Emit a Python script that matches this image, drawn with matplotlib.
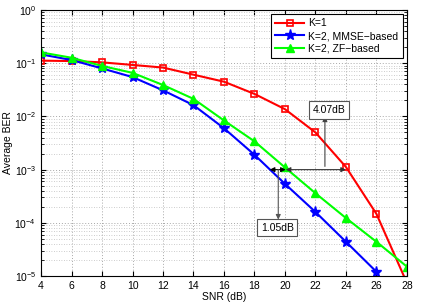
import matplotlib
matplotlib.use("Agg")
import matplotlib.pyplot as plt
import numpy as np

snr = [4, 6, 8, 10, 12, 14, 16, 18, 20, 22, 24, 26, 28]
ber_k1 = [0.112, 0.11, 0.104, 0.093, 0.083, 0.061, 0.045, 0.0265, 0.0137, 0.005, 0.00112, 1.47e-4, 7.4e-6]
ber_mmse = [0.147, 0.115, 0.080, 0.055, 0.031, 0.0163, 0.006, 0.0019, 5.4e-4, 1.6e-4, 4.4e-5, 1.2e-5]
ber_zf = [0.16, 0.127, 0.089, 0.066, 0.039, 0.0214, 0.0084, 0.0034, 0.0011, 3.6e-4, 1.23e-4, 4.4e-5, 1.5e-5]
labels = ["K=1", "K=2, MMSE\u2212based", "K=2, ZF\u2212based"]

plt.rcParams["font.family"] = ["Liberation Sans", "DejaVu Sans"]
fig = plt.figure(figsize=(4.32, 3.05), dpi=100)
ax = fig.add_axes([0.095, 0.095, 0.847, 0.872])

ax.semilogy(snr, ber_k1, "-s", color="red", lw=1.5, ms=5, mfc="none", mew=1.2, label=labels[0])
ax.semilogy(snr[:len(ber_mmse)], ber_mmse, "-*", color="blue", lw=1.5, ms=8, label=labels[1])
ax.semilogy(snr, ber_zf, "-^", color="#00ff00", lw=1.5, ms=6, label=labels[2])

ax.set_xlim(4, 28)
ax.set_ylim(1e-5, 1)
ax.set_xticks(np.arange(4, 29, 2))
ax.tick_params(which="both", direction="in", labelsize=7.5, top=True, right=True)
ax.grid(True, which="major", ls=(0, (1, 2)), color="#a8a8a8", lw=0.7)
ax.grid(True, which="minor", axis="y", ls=(0, (1, 2)), color="#bcbcbc", lw=0.6)
ax.set_xlabel("SNR (dB)", fontsize=7.5, labelpad=1)
ax.set_ylabel("Average BER", fontsize=7.5, labelpad=1)

# gap arrows at BER = 1e-3
head = dict(lw=0.8, shrinkA=0, shrinkB=0, mutation_scale=7)
ax.annotate("", xy=(19.0, 1e-3), xytext=(20.05, 1e-3),
            arrowprops=dict(arrowstyle="<|-|>", color="black", **head))
ax.annotate("", xy=(20.05, 1e-3), xytext=(24.0, 1e-3),
            arrowprops=dict(arrowstyle="<|-|>", color="#333333", **head))
ax.annotate("", xy=(22.62, 1.0e-2), xytext=(22.62, 1.15e-3),
            arrowprops=dict(arrowstyle="-|>", color="#444444", **head))
ax.annotate("", xy=(19.56, 1.15e-4), xytext=(19.56, 1e-3),
            arrowprops=dict(arrowstyle="-|>", color="#555555", **head))
box = dict(boxstyle="square,pad=0.35", fc="white", ec="#555555", lw=0.8)
ax.text(22.9, 1.33e-2, "4.07dB", fontsize=7.5, ha="center", va="center", bbox=box)
ax.text(19.5, 8.1e-5, "1.05dB", fontsize=7.5, ha="center", va="center", bbox=box)

leg = ax.legend(loc="upper right", fontsize=7.5, fancybox=False, framealpha=1,
                edgecolor="black", borderaxespad=0.4, handlelength=2.8,
                labelspacing=0.25, borderpad=0.4, handletextpad=0.4)
leg.get_frame().set_linewidth(0.8)

fig.savefig("out.png", dpi=100)
